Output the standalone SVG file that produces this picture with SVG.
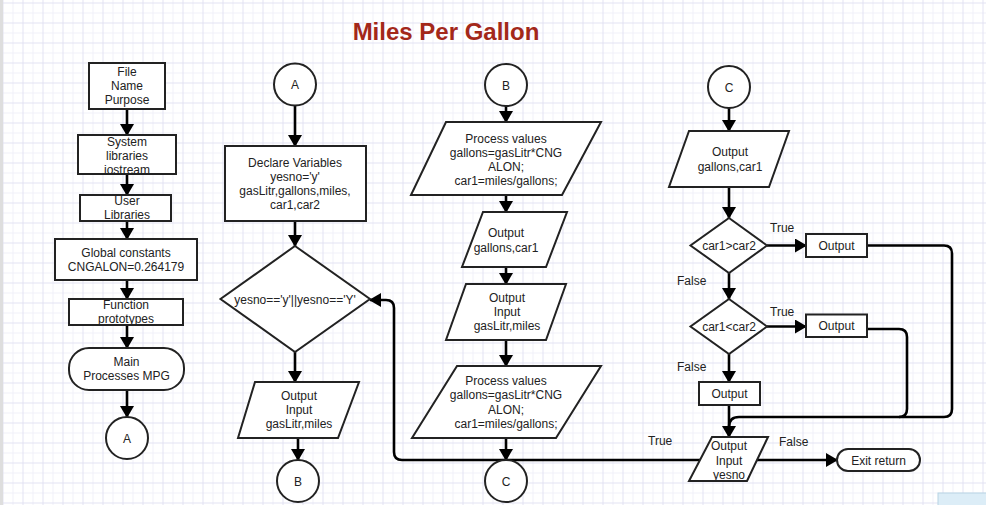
<svg xmlns="http://www.w3.org/2000/svg" width="986" height="505" viewBox="0 0 986 505">
<defs>
  <pattern id="grid" width="20" height="20" patternUnits="userSpaceOnUse" x="2.5" y="2.5">
    <path d="M0 10.5H20M10.5 0V20" stroke="#f0f0f8" stroke-width="1" fill="none"/>
    <path d="M0 0.5H20M0.5 0V20" stroke="#e2e2f2" stroke-width="1" fill="none"/>
  </pattern>
  <marker id="arr" viewBox="0 0 12 14" refX="11" refY="7" markerWidth="12" markerHeight="14" markerUnits="userSpaceOnUse" orient="auto">
    <path d="M0 0L12 7L0 14Z" fill="#000"/>
  </marker>
  <style>
    .s{fill:#fff;stroke:#222;stroke-width:2}
    .c{fill:none;stroke:#000;stroke-width:2.6}
    .a{marker-end:url(#arr)}
    text{font-family:"Liberation Sans",Arial,sans-serif;font-size:12px;fill:#222;text-anchor:middle}
    .l{text-anchor:start}
    .t{font-size:24px;font-weight:bold;fill:#a3281a}
  </style>
</defs>
<rect width="986" height="505" fill="#fff"/>
<rect width="986" height="505" fill="url(#grid)"/>
<rect x="0" y="0" width="3" height="505" fill="#dedede"/>
<rect x="938" y="493" width="50" height="14" fill="#dcedf7" stroke="#b7d3e4"/>
<text class="t" x="446" y="40">Miles Per Gallon</text>

<g id="connectors">
  <path class="c a" d="M127 109V135"/>
  <path class="c a" d="M127 174V195"/>
  <path class="c a" d="M127 221V239"/>
  <path class="c a" d="M127 280V299"/>
  <path class="c a" d="M127 325V348"/>
  <path class="c a" d="M127 390V417"/>
  <path class="c a" d="M295 106V146"/>
  <path class="c a" d="M295 221V246"/>
  <path class="c a" d="M295 352V382"/>
  <path class="c a" d="M298 438V460"/>
  <path class="c a" d="M506 106V122"/>
  <path class="c a" d="M506 195V212"/>
  <path class="c a" d="M506 267V284"/>
  <path class="c a" d="M506 340V366"/>
  <path class="c a" d="M506 438V460"/>
  <path class="c a" d="M729 108V131"/>
  <path class="c a" d="M729 187V218"/>
  <path class="c a" d="M767 245.5H806"/>
  <path class="c a" d="M729 273V299"/>
  <path class="c a" d="M767 326.5H806"/>
  <path class="c a" d="M729 354V382"/>
  <path class="c a" d="M729 405V437"/>
  <path class="c" d="M867 245.5H944Q952 245.5 952 253.5V409Q952 417 944 417H739Q729 417 729 427"/>
  <path class="c" d="M867 329H899Q907 329 907 337V409Q907 417 899 417"/>
  <path class="c a" d="M700 460H402Q394 460 394 452V308Q394 300 386 300H370"/>
  <path class="c a" d="M757 460H837"/>
  <text class="l" x="770" y="232">True</text>
  <text class="l" x="677" y="284.5">False</text>
  <text class="l" x="770" y="316">True</text>
  <text class="l" x="677" y="370.5">False</text>
  <text class="l" x="648" y="445">True</text>
  <text class="l" x="779" y="446">False</text>
</g>

<g id="file">
  <rect class="s" x="89" y="63" width="76" height="46"/>
  <text x="127" y="76">File</text>
  <text x="127" y="90">Name</text>
  <text x="127" y="104">Purpose</text>
</g>
<g id="syslib">
  <rect class="s" x="78" y="135" width="98" height="39"/>
  <text x="127" y="145.5">System</text>
  <text x="127" y="159.5">libraries</text>
  <text x="127" y="173.5">iostream</text>
</g>
<g id="userlib">
  <rect class="s" x="80" y="195" width="91" height="26"/>
  <text x="127" y="205">User</text>
  <text x="127" y="219">Libraries</text>
</g>
<g id="global">
  <rect class="s" x="55" y="239" width="142" height="41"/>
  <text x="126" y="257">Global constants</text>
  <text x="126" y="271">CNGALON=0.264179</text>
</g>
<g id="proto">
  <rect class="s" x="69" y="299" width="114" height="26"/>
  <text x="126" y="308.5">Function</text>
  <text x="126" y="323">prototypes</text>
</g>
<g id="main">
  <rect class="s" x="69" y="348" width="115" height="42" rx="20" ry="20"/>
  <text x="126.5" y="366">Main</text>
  <text x="126.5" y="380">Processes MPG</text>
</g>
<g id="connA1">
  <circle class="s" cx="127" cy="438" r="21"/>
  <text x="127" y="442.5">A</text>
</g>

<g id="connA2">
  <circle class="s" cx="295" cy="84.5" r="21"/>
  <text x="295" y="89">A</text>
</g>
<g id="declare">
  <rect class="s" x="225" y="146" width="141" height="75"/>
  <text x="295" y="167">Declare Variables</text>
  <text x="295" y="181">yesno='y'</text>
  <text x="295" y="195">gasLitr,gallons,miles,</text>
  <text x="295" y="209">car1,car2</text>
</g>
<g id="loopcond">
  <path class="s" d="M295 246L370 299L295 352L220.5 299Z"/>
  <text x="295" y="303.5">yesno=='y'||yesno=='Y'</text>
</g>
<g id="input1">
  <path class="s" d="M255 382H359L338 438H238Z"/>
  <text x="299" y="399.5">Output</text>
  <text x="299" y="413.5">Input</text>
  <text x="299" y="428">gasLitr,miles</text>
</g>
<g id="connB1">
  <circle class="s" cx="298" cy="481" r="21"/>
  <text x="298" y="485.5">B</text>
</g>

<g id="connB2">
  <circle class="s" cx="506" cy="85" r="21"/>
  <text x="506" y="89.5">B</text>
</g>
<g id="process1">
  <path class="s" d="M446 122H601L562 195H411Z"/>
  <text x="506" y="143">Process values</text>
  <text x="506" y="157">gallons=gasLitr*CNG</text>
  <text x="506" y="171">ALON;</text>
  <text x="506" y="185">car1=miles/gallons;</text>
</g>
<g id="output1">
  <path class="s" d="M483 212H567L546 267H462Z"/>
  <text x="506" y="237">Output</text>
  <text x="506" y="251.5">gallons,car1</text>
</g>
<g id="input2">
  <path class="s" d="M466 284H566L546 340H446Z"/>
  <text x="507" y="301.5">Output</text>
  <text x="507" y="315.5">Input</text>
  <text x="507" y="329.5">gasLitr,miles</text>
</g>
<g id="process2">
  <path class="s" d="M457 366H601L556 438H412Z"/>
  <text x="506" y="384.5">Process values</text>
  <text x="506" y="399">gallons=gasLitr*CNG</text>
  <text x="506" y="413.5">ALON;</text>
  <text x="506" y="428">car1=miles/gallons;</text>
</g>
<g id="connC1">
  <circle class="s" cx="506" cy="481" r="21"/>
  <text x="506" y="485.5">C</text>
</g>

<g id="connC2">
  <circle class="s" cx="729" cy="87" r="21"/>
  <text x="729" y="91.5">C</text>
</g>
<g id="output2">
  <path class="s" d="M689 131H789L769 187H669Z"/>
  <text x="730" y="155.5">Output</text>
  <text x="730" y="170.5">gallons,car1</text>
</g>
<g id="cmp1">
  <path class="s" d="M729 218L767 245.5L729 273L690.5 245.5Z"/>
  <text x="729" y="250">car1&gt;car2</text>
</g>
<g id="out3">
  <rect class="s" x="806" y="234" width="61" height="23"/>
  <text x="836.5" y="250">Output</text>
</g>
<g id="cmp2">
  <path class="s" d="M729 299L767 326.5L729 354L690.5 326.5Z"/>
  <text x="729" y="331">car1&lt;car2</text>
</g>
<g id="out4">
  <rect class="s" x="806" y="314.5" width="61" height="22.5"/>
  <text x="836.5" y="330">Output</text>
</g>
<g id="out5">
  <rect class="s" x="699" y="382" width="61" height="23"/>
  <text x="729.5" y="398">Output</text>
</g>
<g id="yesno">
  <path class="s" d="M712 437H768L747 481H689Z"/>
  <text x="729" y="450">Output</text>
  <text x="729" y="464.5">Input</text>
  <text x="729" y="478.5">yesno</text>
</g>
<g id="exit">
  <rect class="s" x="837" y="449" width="83" height="22" rx="11" ry="11"/>
  <text x="878.5" y="464.5">Exit return</text>
</g>
</svg>
